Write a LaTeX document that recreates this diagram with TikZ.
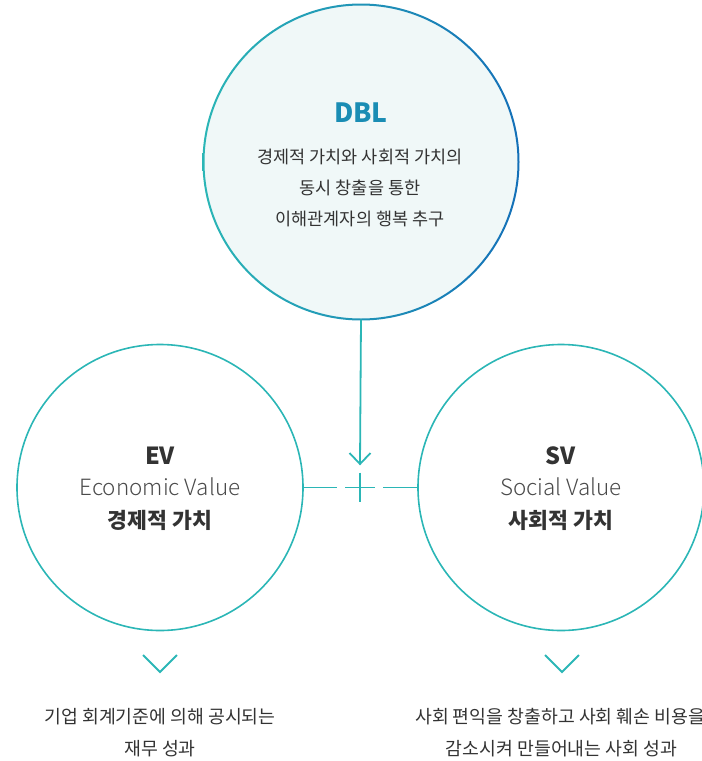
\documentclass[tikz,border=0pt]{standalone}
\usepackage{fontspec}
\usetikzlibrary{calc}
\setmainfont{Noto Sans CJK KR}
\IfFontExistsTF{Noto Sans CJK KR Light}
  {\newfontfamily\lightfont{Noto Sans CJK KR Light}}
  {\newcommand\lightfont{}}
\definecolor{teal1}{HTML}{2BB6B6}
\definecolor{blue1}{HTML}{1470B8}
\definecolor{dblfill}{HTML}{F0F8F8}
\definecolor{dbltext}{HTML}{1A8DB4}
\definecolor{txt}{HTML}{333333}
\definecolor{txtlight}{HTML}{4A4A4A}
\tikzset{
  valuecircle/.style={circle, draw=teal1, line width=1.6pt, minimum size=286pt, inner sep=0pt},
  conn/.style={draw=teal1, line width=1.8pt},
  chev/.style={draw=teal1, line width=1.8pt},
  lbl/.style={inner sep=0pt, anchor=center, text=txt},
  desc/.style={lbl, font=\fontsize{18.3}{22}\selectfont},
}
\begin{document}
\begin{tikzpicture}[x=1pt,y=-1pt]
\useasboundingbox (0,0) rectangle (702,761);
% top circle
\node[circle, fill=dblfill, minimum size=315pt, inner sep=0pt] (dbl) at (361,162) {};
\shade[left color=teal1, right color=blue1, even odd rule] (361,162) circle (158.5pt) (361,162) circle (156.5pt);
\node[lbl, text=dbltext, font=\bfseries\fontsize{26.5}{30}\selectfont] (dbltitle) at (361,113) {DBL};
\node[lbl, font=\fontsize{17.5}{21}\selectfont] (dbl1) at (360,157) {경제적 가치와 사회적 가치의};
\node[lbl, font=\fontsize{17.5}{21}\selectfont] (dbl2) at (360,188) {동시 창출을 통한};
\node[lbl, font=\fontsize{17.5}{21}\selectfont] (dbl3) at (360,219) {이해관계자의 행복 추구};
% value circles
\node[valuecircle] (ev) at (160,487.5) {};
\node[valuecircle] (sv) at (561,487.5) {};
\node[lbl, font=\bfseries\fontsize{23.5}{27}\selectfont] (evt) at (160,456) {EV};
\node[lbl, text=txtlight, font=\lightfont\fontsize{22.4}{26}\selectfont] (eve) at (160,487) {Economic Value};
\node[lbl, font=\bfseries\fontsize{21.6}{25}\selectfont] (evk) at (160,520) {경제적 가치};
\node[lbl, font=\bfseries\fontsize{23.5}{27}\selectfont] (svt) at (561,456) {SV};
\node[lbl, text=txtlight, font=\lightfont\fontsize{22.4}{26}\selectfont] (sve) at (561,487) {Social Value};
\node[lbl, font=\bfseries\fontsize{21.6}{25}\selectfont] (svk) at (561,520) {사회적 가치};
% connectors
\coordinate (tip) at (360,464);
\draw[conn] (dbl.south) -- (tip);
\draw[conn, line join=miter] ($(tip)+(-10.5,-11)$) -- (tip) -- ($(tip)+(10.5,-11)$);
\coordinate (lend) at (337,487.5);
\coordinate (rend) at (383,487.5);
\draw[conn] (ev.east) -- (lend);
\draw[conn] (sv.west) -- (rend);
\coordinate (plusc) at (360,487.5);
\draw[conn] ($(plusc)+(-15,0)$) -- ($(plusc)+(15,0)$);
\draw[conn] ($(plusc)+(0,-15)$) -- ($(plusc)+(0,14)$);
% chevrons
\coordinate (ltip) at (160,672);
\coordinate (rtip) at (562,672);
\draw[chev] ($(ltip)+(-17,-17)$) -- (ltip) -- ($(ltip)+(17,-17)$);
\draw[chev] ($(rtip)+(-17,-17)$) -- (rtip) -- ($(rtip)+(17,-17)$);
% bottom texts
\node[desc] (evd1) at (160,717) {기업 회계기준에 의해 공시되는};
\node[desc] (evd2) at (160,749) {재무 성과};
\node[desc, anchor=west] (svd1) at (415,717) {사회 편익을 창출하고 사회 훼손 비용을};
\node[desc] (svd2) at (561.5,749) {감소시켜 만들어내는 사회 성과};
\end{tikzpicture}
\end{document}
